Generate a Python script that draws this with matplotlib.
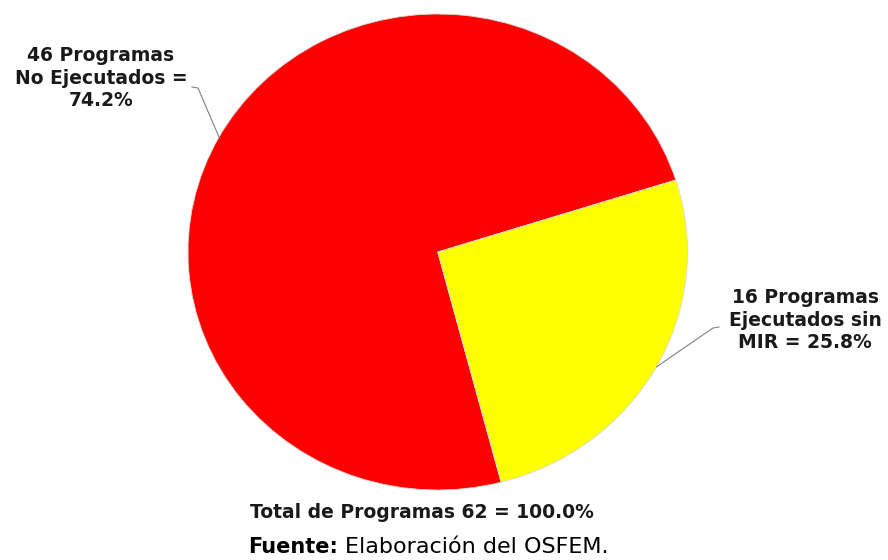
import numpy as np
import matplotlib
matplotlib.use("Agg")
import matplotlib.pyplot as plt  # noqa: E402

# the original text is wide-set; DejaVu Sans gets closest to its extent
plt.rcParams["font.family"] = ["DejaVu Sans"]

# data
labels = ["46 Programas\nNo Ejecutados =\n74.2%",
          "16 Programas\nEjecutados sin\nMIR = 25.8%"]
counts = [46, 16]
colors = ["#FF0000", "#FFFF00"]
total_label = "Total de Programas 62 = 100.0%"

fig = plt.figure(figsize=(8.88, 5.6), dpi=100, facecolor="white")
# pie is slightly squashed vertically in the original
ax = fig.add_axes([188 / 888, 70 / 560, 499.5 / 888, 476 / 560])
wedges, _ = ax.pie(counts, colors=colors, startangle=-75.3, counterclock=False,
                   radius=1.0, wedgeprops=dict(edgecolor="#d8d8d8", linewidth=0.6))
ax.set_aspect("auto")
ax.set_xlim(-1, 1)
ax.set_ylim(-1, 1)
ax.axis("off")

# overlay in pixel coords (y down) for labels and leader lines
ov = fig.add_axes([0, 0, 1, 1], zorder=5)
ov.set_xlim(0, 888)
ov.set_ylim(560, 0)
ov.axis("off")
ov.patch.set_alpha(0)


def edge_px(w):
    mid = np.deg2rad((w.theta1 + w.theta2) / 2)
    disp = ax.transData.transform((np.cos(mid), np.sin(mid)))
    return ov.transData.inverted().transform(disp)


# label positions (center of text block) and leader knee points
lab_xy = [(101, 78), (805, 320)]
knees = [((192, 87), (198, 88)), ((719, 327), (713, 328))]
for w, lab, xy, (k0, k1) in zip(wedges, labels, lab_xy, knees):
    ex, ey = edge_px(w)
    ov.plot([k0[0], k1[0], ex], [k0[1], k1[1], ey], color="#808080", lw=0.8)
    ov.text(xy[0], xy[1], lab, ha="center", va="center", fontsize=13.5,
            fontweight="bold", color="#1a1a1a", linespacing=1.25)

ov.text(422, 512, total_label, ha="center", va="center", fontsize=13.5,
        fontweight="bold", color="#1a1a1a")
ov.text(338, 547, "Fuente:", ha="right", va="center", fontsize=15,
        fontweight="bold", color="black")
ov.text(345, 547, "Elaboración del OSFEM.", ha="left", va="center",
        fontsize=16, color="black")

fig.savefig("out.png", dpi=100)
